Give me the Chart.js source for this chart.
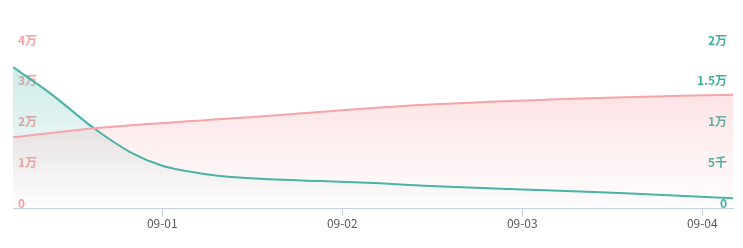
<!DOCTYPE html>
<html>
<head>
<meta charset="utf-8">
<script src="https://cdn.jsdelivr.net/npm/chart.js@4/dist/chart.umd.min.js"></script>
<style>
  html, body { margin: 0; padding: 0; background: #fff; }
  #wrap { width: 743px; height: 248px; position: relative; }
</style>
</head>
<body>
<div id="wrap"><canvas id="c"></canvas></div>
<script>
// x positions are in days (1 = 09-01, 2 = 09-02 ...)
const xMin = 0.1706;
const xMax = 4.1706;
const xTickValues = [1, 2, 3, 4];
const xTickLabels = ['09-01', '09-02', '09-03', '09-04'];

// pink series (left axis)
const pinkDays   = [0.1706, 0.654, 1.543, 2.43, 3.32, 4.1706];
const pinkValues = [17350, 19700, 22450, 25250, 26900, 27800];

// teal series (right axis)
const tealDays   = [0.1706, 0.376, 0.626, 0.821, 1.004, 1.132, 1.321, 1.598, 1.876, 2.209, 2.487, 3.004, 3.543, 4.1706];
const tealValues = [17300, 14100, 9690, 6870, 5150, 4540, 3930, 3520, 3310, 3030, 2700, 2270, 1840, 1190];

const leftMax = 40000, leftStep = 10000;
const rightMax = 20000, rightStep = 5000;

function wan(v) {
  if (v === 0) return '0';
  if (v < 10000) return (v / 1000) + '千';
  return (v / 10000) + '万';
}

function grad(ctx, area, rgb, a0, a1) {
  const g = ctx.createLinearGradient(0, area.top, 0, area.bottom);
  g.addColorStop(0, `rgba(${rgb},${a0})`);
  g.addColorStop(1, `rgba(${rgb},${a1})`);
  return g;
}

const pinkData = pinkDays.map((d, i) => ({ x: d, y: pinkValues[i] }));
const tealData = tealDays.map((d, i) => ({ x: d, y: tealValues[i] }));

new Chart(document.getElementById('c'), {
  type: 'line',
  data: {
    datasets: [
      {
        data: pinkData,
        yAxisID: 'yL',
        borderColor: '#f6a4a9',
        borderWidth: 2,
        pointRadius: 0,
        cubicInterpolationMode: 'monotone',
        fill: 'origin',
        backgroundColor: (c) => {
          const a = c.chart.chartArea;
          if (!a) return 'rgba(248,160,168,0.2)';
          return grad(c.chart.ctx, a, '248,160,168', 0.4, 0.02);
        }
      },
      {
        data: tealData,
        yAxisID: 'yR',
        borderColor: '#4ab3a6',
        borderWidth: 2,
        pointRadius: 0,
        cubicInterpolationMode: 'monotone',
        fill: 'origin',
        backgroundColor: (c) => {
          const a = c.chart.chartArea;
          if (!a) return 'rgba(78,183,170,0.2)';
          return grad(c.chart.ctx, a, '78,183,170', 0.32, 0.0);
        }
      }
    ]
  },
  options: {
    responsive: true,
    maintainAspectRatio: false,
    animation: false,
    layout: { padding: { left: 13, right: 10, top: 45, bottom: 0 } },
    plugins: {
      legend: { display: false },
      tooltip: { enabled: false },
      filler: { drawTime: 'beforeDatasetsDraw' }
    },
    scales: {
      x: {
        type: 'linear',
        min: xMin,
        max: xMax,
        afterBuildTicks: (s) => { s.ticks = xTickValues.map(v => ({ value: v })); },
        afterFit: (s) => { s.height = 40; },
        ticks: {
          autoSkip: false,
          maxRotation: 0,
          padding: 0,
          color: '#5a5a5a',
          font: { family: '"Noto Sans CJK SC", "Noto Sans", sans-serif', size: 12 },
          callback: (v) => {
            const i = xTickValues.indexOf(v);
            return i >= 0 ? xTickLabels[i] : '';
          }
        },
        grid: { drawOnChartArea: false, drawTicks: true, tickLength: 8, color: '#c3d0e0' },
        border: { display: true, color: '#c3d0e0', width: 1 }
      },
      yL: {
        position: 'left',
        min: 0,
        max: leftMax,
        afterFit: (s) => { s.width = 0; },
        ticks: {
          stepSize: leftStep,
          mirror: true,
          padding: 5,
          labelOffset: -5,
          color: '#f4a0a6',
          font: { family: '"Noto Sans CJK SC", sans-serif', size: 12, weight: 'bold' },
          callback: (v) => wan(v)
        },
        grid: { display: false },
        border: { display: false }
      },
      yR: {
        position: 'right',
        min: 0,
        max: rightMax,
        afterFit: (s) => { s.width = 0; },
        ticks: {
          stepSize: rightStep,
          mirror: true,
          padding: -6,
          labelOffset: -5,
          color: '#40ae9f',
          font: { family: '"Noto Sans CJK SC", sans-serif', size: 12, weight: 'bold' },
          callback: (v) => wan(v)
        },
        grid: { display: false },
        border: { display: false }
      }
    }
  }
});
</script>
</body>
</html>
